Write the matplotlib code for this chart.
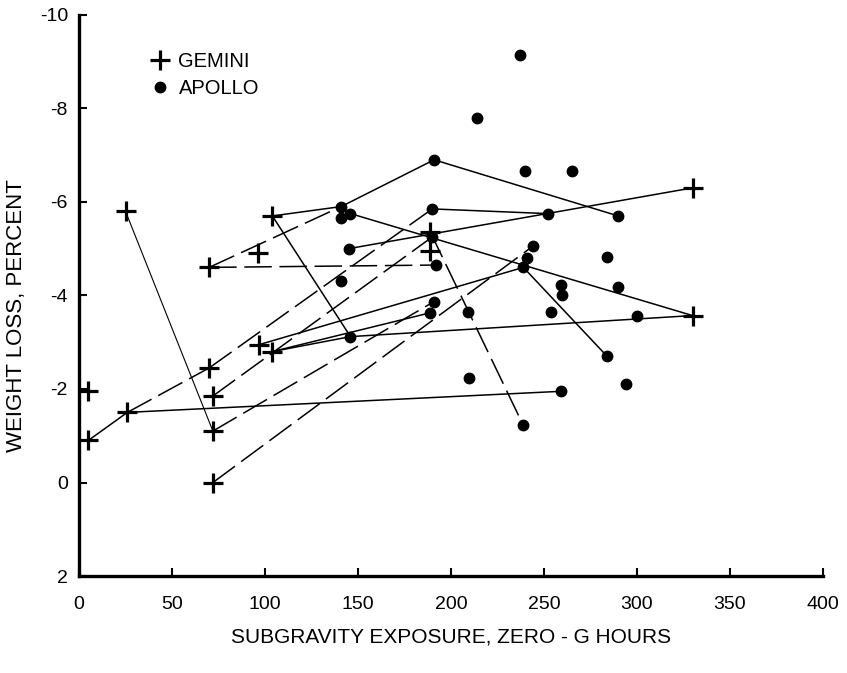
import matplotlib
matplotlib.use("Agg")
from matplotlib import pyplot as plt

plt.rcParams['font.family'] = ['Liberation Sans', 'DejaVu Sans']
plt.rcParams['axes.unicode_minus'] = False

# Gemini crew members: hours of zero-g, weight loss in percent (negative = loss)
gemini_hours = [5, 5, 26, 25, 70, 70, 72, 72, 72, 96, 104, 97, 104, 189, 189, 330, 330]
gemini_loss = [-1.95, -0.9, -1.5, -5.8, -4.6, -2.45, -1.85, -1.1, 0.0, -4.9, -5.7, -2.95, -2.8, -5.35, -4.94, -6.3, -3.57]

# Apollo crew members
apollo_hours = [237, 214, 191, 240, 265, 141, 146, 141, 190, 252, 290, 190, 145, 244, 241,
                239, 192, 284, 141, 259, 260, 290, 191, 189, 209, 254, 300, 146, 284, 210,
                294, 259, 239]
apollo_loss = [-9.15, -7.8, -6.9, -6.65, -6.65, -5.9, -5.75, -5.65, -5.85, -5.75, -5.7, -5.25, -5.0, -5.05, -4.8,
               -4.6, -4.65, -4.83, -4.3, -4.22, -4.0, -4.17, -3.87, -3.63, -3.65, -3.65, -3.57, -3.12, -2.7, -2.24,
               -2.1, -1.95, -1.22]

# same man flown twice: (hours1, loss1, hours2, loss2)
solid_links = [
	(5, -0.9, 26, -1.5),
	(26, -1.5, 259, -1.95),
	(104, -5.7, 141, -5.9),
	(104, -5.7, 146, -3.12),
	(141, -5.9, 191, -6.9),
	(191, -6.9, 290, -5.7),
	(190, -5.85, 252, -5.75),
	(146, -5.75, 330, -3.57),
	(145, -5.0, 330, -6.3),
	(104, -2.8, 146, -3.12),
	(146, -3.12, 330, -3.57),
	(239, -4.6, 284, -2.7),
	(97, -2.95, 239, -4.6),
	(104, -2.8, 189, -3.63),
]
thin_links = [
	(25, -5.8, 72, -1.1),
]
dashed_links = [
	(26, -1.5, 70, -2.45),
	(70, -2.45, 190, -5.85),
	(70, -4.6, 141, -5.9),
	(70, -4.6, 192, -4.65),
	(72, -1.85, 190, -5.25),
	(72, -1.1, 191, -3.87),
	(72, 0.0, 244, -5.05),
	(189, -5.35, 239, -1.22),
]

x_ticks = [0, 50, 100, 150, 200, 250, 300, 350, 400]
y_ticks = [-10, -8, -6, -4, -2, 0, 2]

fig = plt.figure(figsize=(8.47, 6.73), dpi=100)
ax = fig.add_axes([0.0933, 0.144, 0.878, 0.834])

for x0, y0, x1, y1 in solid_links:
	ax.plot([x0, x1], [y0, y1], color="black", linewidth=1.1, zorder=2)

for x0, y0, x1, y1 in thin_links:
	ax.plot([x0, x1], [y0, y1], color="black", linewidth=0.8, zorder=2)

for x0, y0, x1, y1 in dashed_links:
	ax.plot([x0, x1], [y0, y1], color="black", linewidth=1.1, linestyle=(0, (18, 5)), zorder=2)

ax.plot(gemini_hours, gemini_loss, linestyle="none", marker="+", markersize=14,
	markeredgewidth=2.3, color="black", label="GEMINI", zorder=3)
ax.plot(apollo_hours, apollo_loss, linestyle="none", marker="o", markersize=7.5,
	color="black", label="APOLLO", zorder=3)

ax.set_xlim(0, 400)
ax.set_ylim(2, -10)
ax.set_xticks(x_ticks)
ax.set_yticks(y_ticks)

for side in ["top", "right"]:
	ax.spines[side].set_visible(False)
for side in ["left", "bottom"]:
	ax.spines[side].set_linewidth(2.4)

ax.tick_params(direction="in", length=6, width=1.5, labelsize=14)
ax.tick_params(axis="x", pad=14)
ax.tick_params(axis="y", pad=8)

ax.set_ylabel("WEIGHT LOSS, PERCENT", fontsize=16)
ax.yaxis.set_label_coords(-0.07, 0.465)
ax.set_xlabel("SUBGRAVITY EXPOSURE, ZERO - G HOURS", fontsize=15, labelpad=11)

ax.legend(loc="upper left", bbox_to_anchor=(0.085, 0.952), frameon=False, fontsize=14.5,
	handlelength=0.8, handletextpad=0.5, labelspacing=0.4, borderpad=0)

plt.savefig("out.png", dpi=100)
